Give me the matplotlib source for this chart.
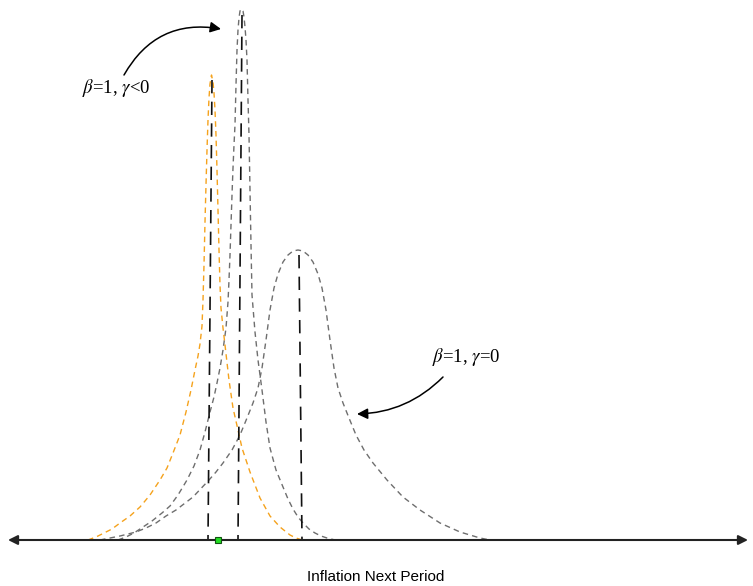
import matplotlib as mpl
mpl.use("Agg")
import matplotlib.pyplot as plt
from matplotlib.patches import FancyArrowPatch

mpl.rcParams['mathtext.fontset'] = 'stix'

# curves: x position, height above the axis (px units)
orange_x = [88, 96, 104, 112, 120, 130, 140, 150, 160, 167, 173, 180, 186, 191, 195, 198,
            200, 202, 203, 204, 205, 206, 207, 208, 209, 210, 211.5,
            213, 214, 215, 216, 217, 218, 219, 220, 221, 223, 225, 229, 233, 238, 242,
            250, 260, 270, 280, 290, 296, 302]
orange_h = [0, 3, 7, 11, 17, 24, 33, 45, 60, 72, 87, 105, 128, 150, 170, 184,
            196, 214, 240, 275, 318, 355, 390, 420, 442, 456, 465,
            458, 447, 430, 405, 370, 330, 290, 255, 232, 212, 195, 160, 132, 110, 92,
            68, 42, 24, 13, 5, 2, 0]

tall_x = [118, 126, 134, 143, 152, 162, 170, 178, 187, 194, 200, 205, 210, 214, 217, 220,
          223, 226, 228, 229, 230, 231, 232, 233, 234, 235, 236, 237, 238, 239, 240, 241.5,
          243, 244, 245, 246, 247, 248, 249, 250, 251, 252, 255, 258, 262, 266, 270,
          276, 283, 288, 293, 298, 303, 309, 315, 321, 327, 335]
tall_h = [0, 3, 7, 13, 19, 27, 34, 45, 60, 74, 90, 108, 128, 143, 157, 172,
          190, 212, 238, 260, 285, 315, 345, 372, 395, 415, 455, 490, 510, 522, 529, 531,
          529, 523, 513, 500, 480, 440, 405, 350, 295, 245, 208, 180, 150, 118, 92,
          70, 53, 41, 31, 23, 17, 11, 7, 4, 2, 0]

wide_x = [100, 110, 120, 136, 146, 156, 166, 176, 193, 209, 216, 223, 232, 240, 247, 253,
          258, 262, 266, 270, 274, 278, 283, 288, 293, 298,
          303, 308, 313, 318, 322, 326, 330, 334, 338, 343, 349, 356, 364, 373, 387,
          403, 420, 440, 460, 480, 490]
wide_h = [0, 2, 4, 8, 12, 17, 24, 30, 43, 60, 68, 77, 90, 105, 122, 137,
          152, 172, 200, 230, 252, 266, 278, 285, 289, 290,
          289, 285, 278, 266, 252, 230, 200, 172, 152, 137, 122, 105, 90, 77, 60,
          43, 30, 17, 8, 2, 0]

# vertical dashed markers (top x, top height, bottom x)
vline_top_x = [212, 242, 299]
vline_top_h = [460, 525, 285]
vline_bot_x = [208, 238, 302]

green_x = 218

fig = plt.figure(figsize=(7.53, 5.86), dpi=100)
ax = fig.add_axes([0, 0, 1, 1])
ax.set_xlim(0, 753)
ax.set_ylim(-46, 540)
ax.axis('off')

ax.plot(wide_x, wide_h, color='#6e6e6e', lw=1.0, dashes=(4, 3))
ax.plot(tall_x, tall_h, color='#6e6e6e', lw=1.0, dashes=(4, 3))
ax.plot(orange_x, orange_h, color='#f5a21c', lw=1.0, dashes=(4, 3))

for xt, ht, xb in zip(vline_top_x, vline_top_h, vline_bot_x):
    ax.plot([xt, xb], [ht, 0], color='#111111', lw=1.2, dashes=(8, 5))

# horizontal axis with arrows at both ends
ax.annotate('', xy=(748, 0), xytext=(8, 0),
            arrowprops=dict(arrowstyle='<|-|>', color='#222222', lw=1.5,
                            mutation_scale=14, shrinkA=0, shrinkB=0))

ax.plot([green_x], [0], marker='s', ms=5, mfc='#22dd22', mec='#115511', mew=0.8,
        zorder=5)

ax.text(116, 452, r'$\beta$=1, $\gamma$<0', fontsize=13.5, family='Liberation Serif',
        ha='center', va='center')
ax.text(466, 183, r'$\beta$=1, $\gamma$=0', fontsize=13.5, family='Liberation Serif',
        ha='center', va='center')

a1 = FancyArrowPatch((124, 465), (221, 511), connectionstyle='arc3,rad=-0.35',
                     arrowstyle='-|>', mutation_scale=16, color='black', lw=1.1,
                     shrinkA=0, shrinkB=0)
a2 = FancyArrowPatch((443, 163), (357, 126), connectionstyle='arc3,rad=-0.2',
                     arrowstyle='-|>', mutation_scale=16, color='black', lw=1.1,
                     shrinkA=0, shrinkB=0)
ax.add_patch(a1)
ax.add_patch(a2)

ax.text(376, -37, 'Inflation Next Period', fontsize=11, family='Liberation Sans',
        ha='center', va='center')

fig.savefig('out.png', dpi=100)
